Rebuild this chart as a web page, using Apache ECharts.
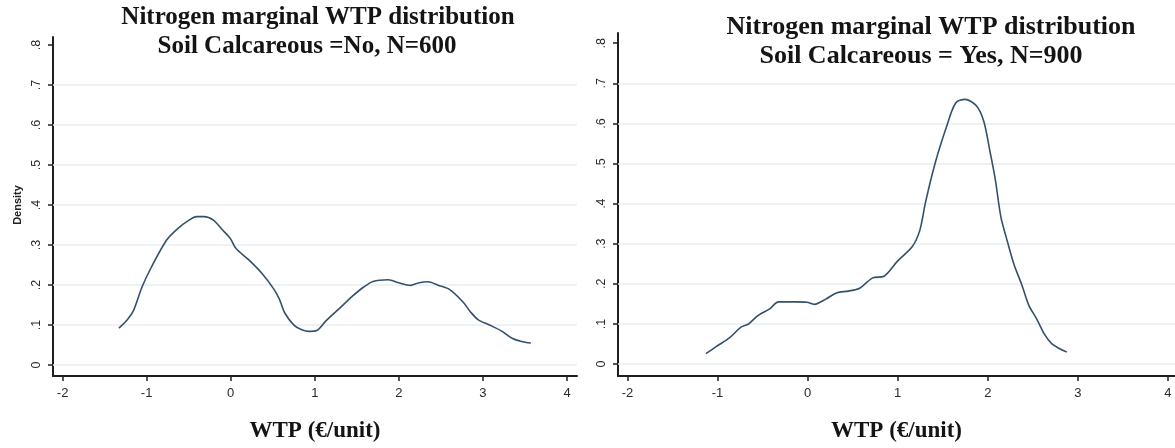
<!DOCTYPE html>
<html>
<head>
<meta charset="utf-8">
<script src="https://cdn.jsdelivr.net/npm/echarts@6/dist/echarts.min.js"></script>
<style>
  html, body { margin: 0; padding: 0; background: #fff; }
  #chart { width: 1175px; height: 448px; }
</style>
</head>
<body>
<div id="chart"></div>
<script>
// Kernel density of marginal WTP for nitrogen, split by soil type
const xTicks = [-2, -1, 0, 1, 2, 3, 4];
const yTicks = [0, 0.1, 0.2, 0.3, 0.4, 0.5, 0.6, 0.7, 0.8];
const yTickLabels = ['0', '.1', '.2', '.3', '.4', '.5', '.6', '.7', '.8'];
// horizontal grid lines stop below the top tick
const yGridLines = [0, 0.1, 0.2, 0.3, 0.4, 0.5, 0.6, 0.7];

const titleNo = ['Nitrogen marginal WTP distribution', 'Soil Calcareous =No, N=600'];
const titleYes = ['Nitrogen marginal WTP distribution', 'Soil Calcareous = Yes, N=900'];
const xName = 'WTP (€/unit)';
const yName = 'Density';

// Soil Calcareous = No: [WTP, density]
const densityNo = [
  [-1.33, 0.092], [-1.23, 0.113], [-1.157, 0.136], [-1.055, 0.195], [-0.943, 0.245],
  [-0.764, 0.312], [-0.63, 0.341], [-0.496, 0.362], [-0.407, 0.371], [-0.317, 0.371],
  [-0.206, 0.362], [-0.094, 0.337], [-0.004, 0.316], [0.063, 0.291], [0.219, 0.262],
  [0.375, 0.228], [0.509, 0.191], [0.576, 0.166], [0.643, 0.130], [0.755, 0.099],
  [0.845, 0.088], [0.934, 0.084], [1.023, 0.086], [1.135, 0.111], [1.291, 0.141],
  [1.448, 0.172], [1.582, 0.195], [1.693, 0.209], [1.872, 0.213], [2.006, 0.205],
  [2.140, 0.199], [2.23, 0.205], [2.341, 0.208], [2.475, 0.199], [2.609, 0.188],
  [2.766, 0.157], [2.855, 0.132], [2.945, 0.113], [3.079, 0.100], [3.213, 0.086],
  [3.347, 0.067], [3.458, 0.059], [3.57, 0.055]
];

// Soil Calcareous = Yes: [WTP, density]
const densityYes = [
  [-1.129, 0.026], [-1.012, 0.044], [-0.865, 0.066], [-0.74, 0.092], [-0.656, 0.100],
  [-0.552, 0.121], [-0.426, 0.137], [-0.322, 0.155], [-0.134, 0.155], [-0.008, 0.154],
  [0.075, 0.149], [0.201, 0.162], [0.326, 0.178], [0.451, 0.182], [0.577, 0.189],
  [0.723, 0.215], [0.849, 0.219], [0.995, 0.256], [1.162, 0.293], [1.246, 0.334],
  [1.309, 0.404], [1.413, 0.499], [1.538, 0.589], [1.643, 0.651], [1.747, 0.660],
  [1.873, 0.644], [1.956, 0.605], [2.019, 0.536], [2.082, 0.462], [2.145, 0.367],
  [2.207, 0.314], [2.291, 0.248], [2.375, 0.199], [2.458, 0.145], [2.542, 0.113],
  [2.625, 0.076], [2.709, 0.051], [2.793, 0.039], [2.876, 0.030]
];

const axisColor = '#1f1f1f';
const lineColor = '#34506e';
const gridColor = '#e7eef3';
const numFont = '"Liberation Sans", Arial, sans-serif';
const titleFont = '"Liberation Serif", "DejaVu Serif", serif';

function makeX(gridIndex, min, max) {
  return {
    type: 'value', gridIndex, min, max,
    name: xName, nameLocation: 'middle', nameGap: 44,
    nameTextStyle: { fontFamily: titleFont, fontWeight: 'bold', fontSize: 23, color: '#141414' },
    axisLine: { show: true, onZero: false, lineStyle: { color: axisColor, width: 2 } },
    axisTick: { show: true, length: 5, customValues: xTicks, lineStyle: { color: axisColor, width: 1.5 } },
    axisLabel: { customValues: xTicks, margin: 11, fontSize: 13, fontFamily: numFont, color: '#2a2a2a' },
    splitLine: { show: false }
  };
}

function makeY(gridIndex, min, max) {
  return {
    type: 'value', gridIndex, min, max,
    axisLine: { show: true, onZero: false, lineStyle: { color: axisColor, width: 2 } },
    axisTick: { show: true, length: 5, customValues: yTicks, lineStyle: { color: axisColor, width: 1.5 } },
    axisLabel: {
      customValues: yTicks, rotate: 90, margin: 10, fontSize: 12.5, fontFamily: numFont, color: '#2a2a2a',
      formatter: v => yTickLabels[yTicks.findIndex(t => Math.abs(t - v) < 1e-9)]
    },
    splitLine: { show: false }
  };
}

function gridMarkLines() {
  return {
    silent: true, symbol: 'none', z: 1,
    label: { show: false },
    lineStyle: { color: gridColor, width: 1.5, type: 'solid' },
    data: yGridLines.map(v => ({ yAxis: v }))
  };
}

// two-line panel heading; each line has its own centre
function titleText(lines, centers, y0, size) {
  return lines.map((t, i) => ({
    type: 'text', x: centers[i], y: y0 + i * 29, z: 100,
    style: {
      text: t, textAlign: 'center', textVerticalAlign: 'middle',
      font: 'bold ' + size + 'px ' + titleFont, fill: '#141414'
    }
  }));
}

const chart = echarts.init(document.getElementById('chart'), null, { renderer: 'canvas' });
chart.setOption({
  animation: false,
  backgroundColor: '#ffffff',
  grid: [
    { left: 53, top: 37, width: 524, height: 339 },
    { left: 618, top: 33, width: 557, height: 345 }
  ],
  xAxis: [makeX(0, -2.114, 4.119), makeX(1, -2.105, 4.078)],
  yAxis: [makeY(0, -0.0275, 0.82), makeY(1, -0.0297, 0.8255)],
  series: [
    {
      type: 'line', xAxisIndex: 0, yAxisIndex: 0, data: densityNo,
      showSymbol: false, smooth: 0.3, z: 3,
      lineStyle: { color: lineColor, width: 1.6 },
      markLine: gridMarkLines()
    },
    {
      type: 'line', xAxisIndex: 1, yAxisIndex: 1, data: densityYes,
      showSymbol: false, smooth: 0.3, z: 3,
      lineStyle: { color: lineColor, width: 1.6 },
      markLine: gridMarkLines()
    }
  ],
  graphic: [
    ...titleText(titleNo, [318, 307], 18, 25),
    ...titleText(titleYes, [931, 921], 27, 26),
    {
      type: 'text', x: 18, y: 205, rotation: Math.PI / 2,
      style: {
        text: yName, textAlign: 'center', textVerticalAlign: 'middle',
        font: 'bold 11px ' + numFont, fill: '#222'
      }
    }
  ]
});
</script>
</body>
</html>
